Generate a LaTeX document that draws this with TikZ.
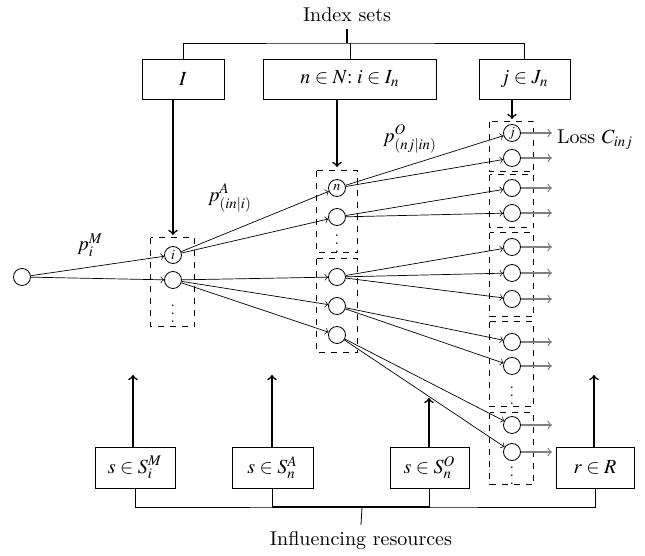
\documentclass[tikz,border=0pt]{standalone}
\usepackage{amsmath}
\usepackage{mathptmx}
\usepackage{xcolor}
\usepackage{tikz}
\usetikzlibrary{arrows}

\tikzset{
	setbox/.style = {draw, inner sep=0pt, minimum height=20pt},
	circ/.style = {draw, circle, inner sep=0pt, minimum size=8.5pt, font=\scriptsize},
	dbox/.style = {dashed, line width=0.5pt},
	edge/.style = {->, >=to, line width=0.35pt},
	outarr/.style = {->, >=to, color=gray, line width=0.6pt},
	bigarrow/.style = {->, >=to, line width=0.8pt},
}

\begin{document}
\begin{tikzpicture}[x=0.5pt, y=-0.5pt]
	\useasboundingbox (0,0) rectangle (645,556);
	
	% index sets
	\node (idx) at (347,15) {Index sets};
	\node[setbox, minimum width=41pt] (bI) at (183,79) {$I$};
	\node[setbox, minimum width=86.5pt] (bN) at (350,79) {$n\in N{:}\; i\in I_n$};
	\node[setbox, minimum width=45.5pt] (bJ) at (524.5,79) {$j\in J_n$};
	
	\coordinate (tbar) at (347,43);
	\draw[line width=0.9pt] (idx.south) -- (tbar);
	\draw (bI.north) |- (tbar) -| (bJ.north);
	\draw (bN.north) -- (bN.north |- tbar);
	
	% resources
	\node (inf) at (361,541) {Influencing resources};
	\node[setbox, minimum width=40pt, minimum height=20.5pt] (bSM) at (135,467.5) {$s\in S_i^M$};
	\node[setbox, minimum width=40.5pt, minimum height=20.5pt] (bSA) at (272.5,467.5) {$s\in S_n^A$};
	\node[setbox, minimum width=39.5pt, minimum height=20.5pt] (bSO) at (429.5,467.5) {$s\in S_n^O$};
	\node[setbox, minimum width=39pt, minimum height=20.5pt] (bR) at (595,467.5) {$r\in R$};
	
	\coordinate (bbar) at (362,507);
	\draw (inf.north) -- (bbar);
	\draw (bSM.south) |- (bbar) -| (bR.south);
	\draw (bSA.south) |- (bbar);
	\draw (bSO.south) |- (bbar);
	\draw[line width=1pt] (bSA.south |- bbar) -- (bSO.south |- bbar);
	
	% up arrows
	\coordinate (uSM) at (133,375);
	\coordinate (uSA) at (272,375);
	\coordinate (uSO) at (429,398);
	\coordinate (uR) at (594,375);
	\draw[bigarrow] (bSM.north -| uSM) -- (uSM);
	\draw[bigarrow] (bSA.north -| uSA) -- (uSA);
	\draw[bigarrow] (bSO.north -| uSO) -- (uSO);
	\draw[bigarrow] (bR.north -| uR) -- (uR);
	
	% dashed groups
	\draw[dbox] (151,238) rectangle (195,327);
	\draw[dbox] (317,171) rectangle (358,253);
	\draw[dbox] (317,259) rectangle (358,353);
	\draw[dbox] (490,122) rectangle (534,172);
	\draw[dbox] (490,175) rectangle (534,228);
	\draw[dbox] (490,233) rectangle (534,317);
	\draw[dbox] (490,322) rectangle (534,407);
	\draw[dbox] (490,413) rectangle (534,485);
	
	\node[font=\scriptsize, inner sep=0pt] (di) at (173,308) {$\vdots$};
	\node[font=\scriptsize, inner sep=0pt] (dn) at (337,238) {$\vdots$};
	\node[font=\scriptsize, inner sep=0pt] (dj1) at (512,390) {$\vdots$};
	\node[font=\scriptsize, inner sep=0pt] (dj2) at (512,470) {$\vdots$};
	
	% down arrows
	\coordinate (aI) at (173,235);
	\coordinate (aN) at (337,167);
	\coordinate (aJ) at (512,119);
	\draw[bigarrow] (bI.south -| aI) -- (aI);
	\draw[bigarrow] (bN.south -| aN) -- (aN);
	\draw[bigarrow] (bJ.south -| aJ) -- (aJ);
	
	% circles
	\node[circ] (c0) at (22,277) {};
	\node[circ] (ci) at (173,255) {$i$};
	\node[circ] (ci2) at (173,280) {};
	\node[circ] (n1) at (337,188) {$n$};
	\node[circ] (n2) at (337,217) {};
	\node[circ] (n3) at (337,277) {};
	\node[circ] (n4) at (337,306) {};
	\node[circ] (n5) at (337,335) {};
	
	\node[circ] (j1) at (512,133) {$j$};
	\draw[outarr] (j1.east) -- ++(31,0);
	\foreach \y [count=\k from 2] in {158,188,213,247,273,299,342,366,425,452} {
		\node[circ] (j\k) at (512,\y) {};
		\draw[outarr] (j\k.east) -- ++(31,0);
	}
	
	% transitions
	\draw[edge] (c0) -- (ci);
	\draw[edge] (c0) -- (ci2);
	\draw[edge] (ci) -- (n1);
	\draw[edge] (ci) -- (n2);
	\foreach \t in {n3,n4,n5} {
		\draw[edge] (ci2) -- (\t);
	}
	\draw[edge] (n1) -- (j1);
	\draw[edge] (n1) -- (j2);
	\draw[edge] (n2) -- (j3);
	\draw[edge] (n2) -- (j4);
	\draw[edge] (n3) -- (j5);
	\draw[edge] (n3) -- (j6);
	\draw[edge] (n3) -- (j7);
	\draw[edge] (n4) -- (j8);
	\draw[edge] (n4) -- (j9);
	\draw[edge] (n5) -- (j10);
	\draw[edge] (n5) -- (j11);
	
	% probabilities
	\node (pM) at (90,245) {$p_i^M$};
	\node (pA) at (230,198) {$p^A_{(in|i)}$};
	\node (pO) at (410,139) {$p^O_{(nj|in)}$};
	\node[anchor=west] (loss) at (550,140) {Loss $C_{inj}$};
	
\end{tikzpicture}
\end{document}
